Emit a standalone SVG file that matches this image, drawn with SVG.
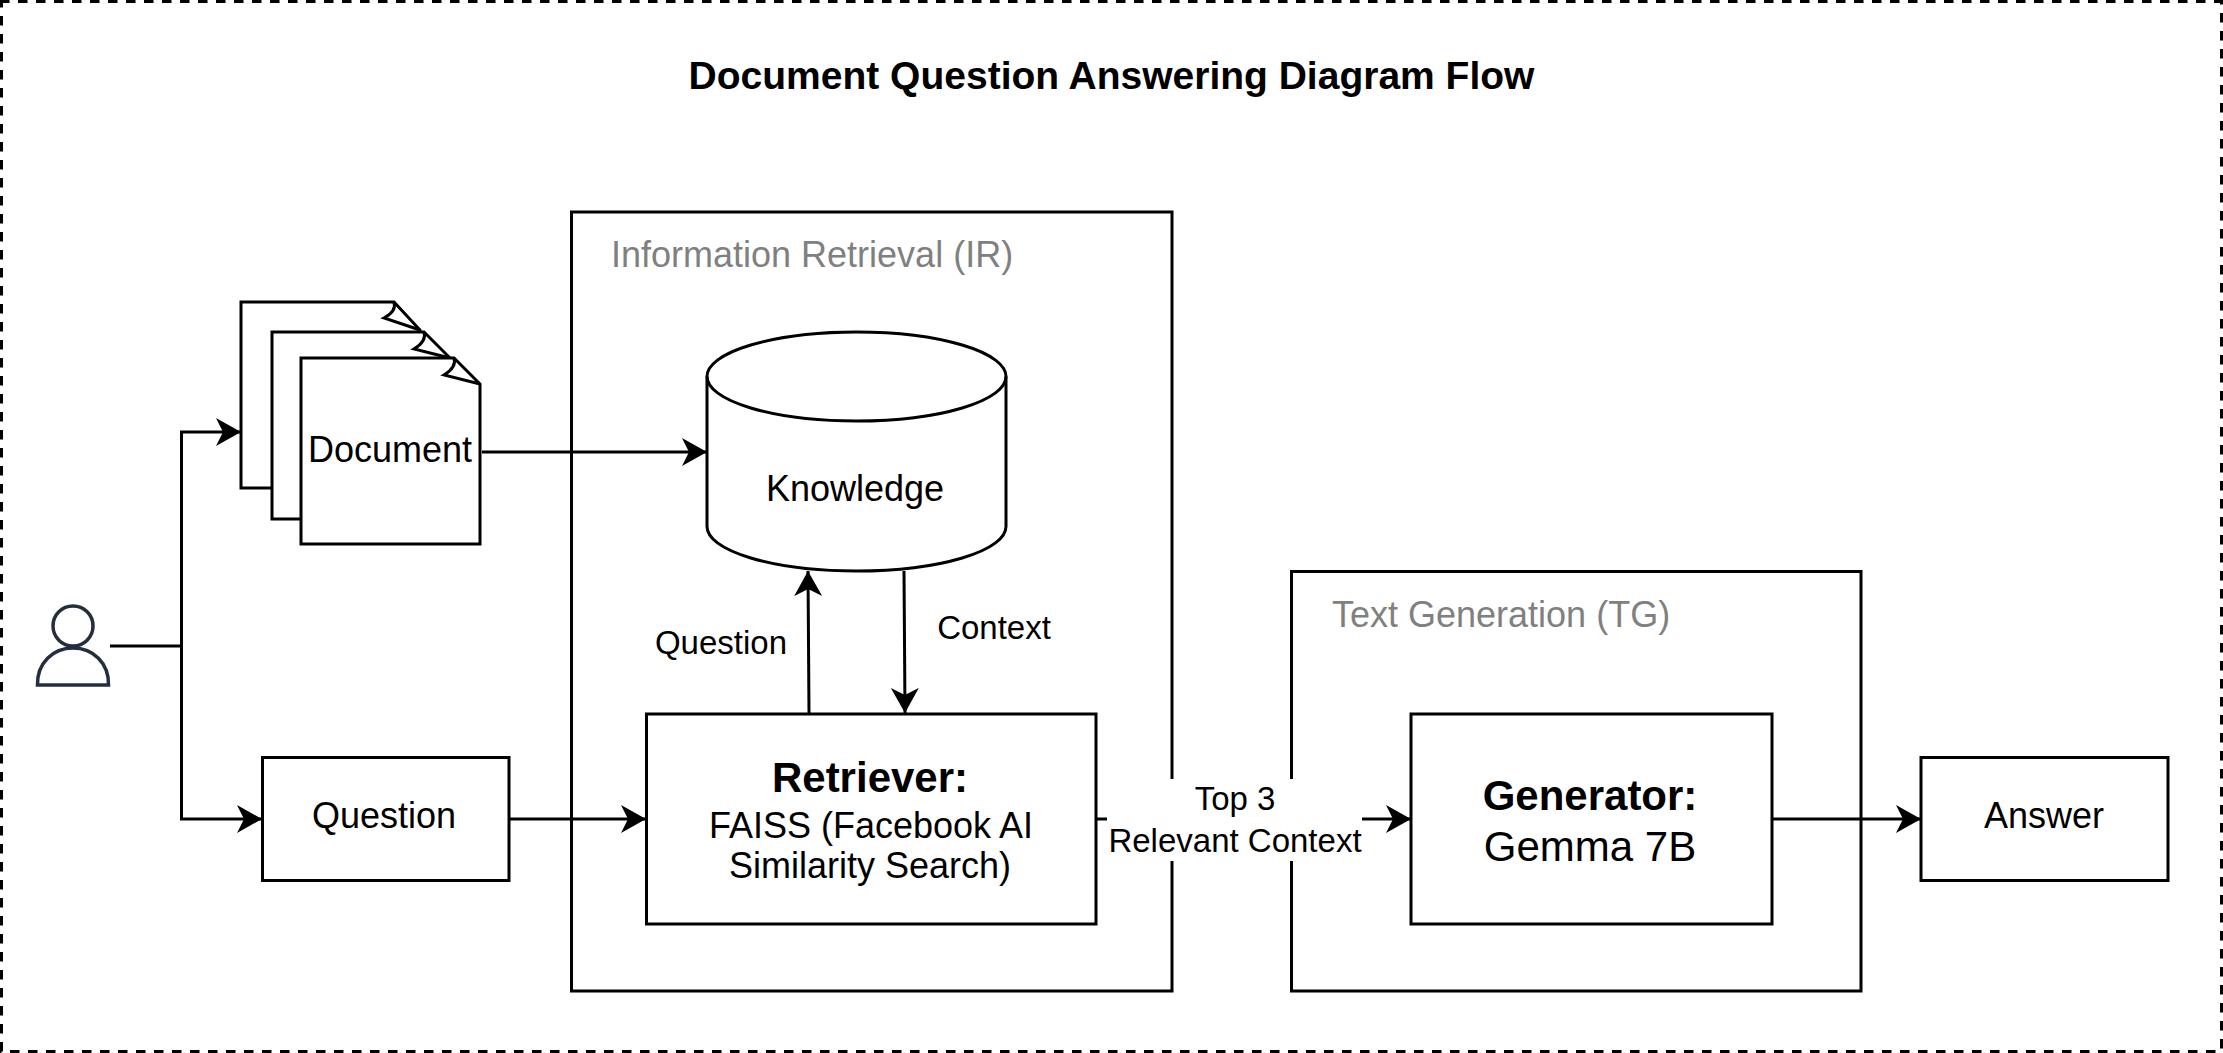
<svg xmlns="http://www.w3.org/2000/svg" width="2223" height="1053" viewBox="0 0 2223 1053">
<style>
.s{fill:#fff;stroke:#000;stroke-width:3}
.o{fill:none;stroke:#000;stroke-width:3}
.c{fill:none;stroke:#000;stroke-width:3}
.d{fill:none;stroke:#000;stroke-width:3;stroke-dasharray:9.500 8.500}
text{font-family:"Liberation Sans",Arial,sans-serif;font-size:36px;fill:#000;text-anchor:middle}
.g{fill:#808080;text-anchor:start}
.b{font-weight:700}
.l{font-size:42px}
.e{font-size:33px}
.u{fill:none;stroke:#232f3e;stroke-width:3.500}
</style>
<defs>
<marker id="a" markerUnits="userSpaceOnUse" markerWidth="30" markerHeight="30" refX="25" refY="14" orient="auto"><path d="M0 0L25 14L0 28L7 14Z" fill="#000"/></marker>
</defs>
<rect width="2223" height="1053" fill="#fff"/>
<g id="frame"><path class="d" d="M0 1.500H2223"/><path class="d" d="M1.500 -2V1053"/><path class="d" d="M2221.500 -5V1053"/><path class="d" d="M-8 1051.500H2223"/></g>
<text id="title" class="b" x="1111.500" y="89" style="font-size:39px">Document Question Answering Diagram Flow</text>
<g id="ir"><rect class="s" x="571.500" y="212" width="600.500" height="779"/><text class="g" x="611" y="267">Information Retrieval (IR)</text></g>
<g id="tg"><rect class="s" x="1291.500" y="571.500" width="569.500" height="419.500"/><text class="g" x="1332" y="627">Text Generation (TG)</text></g>
<g id="doc1"><path class="s" d="M241 302H394L420 330V488H241Z"/><path class="o" d="M394 302Q397 311 384 318L420 330"/></g>
<g id="doc2"><path class="s" d="M272 332H424L450 358V519H272Z"/><path class="o" d="M424 332Q427 341 414 349L450 358"/></g>
<g id="doc3"><path class="s" d="M301 358H454L480 384V544H301Z"/><path class="o" d="M454 358Q457 367 444 375L480 384"/><text x="390" y="462">Document</text></g>
<g id="user"><circle class="u" cx="73" cy="626" r="20"/><path class="u" d="M37.500 685C37 663 53 648 73 648S109 663 108.500 685Z"/></g>
<g id="knowledge"><path class="s" d="M707 376.500A149.500 44.500 0 0 1 1006 376.500V526.500A149.500 44.500 0 0 1 707 526.500Z"/><path class="o" d="M707 376.500A149.500 44.500 0 0 0 1006 376.500"/><text x="855" y="501">Knowledge</text></g>
<g id="question"><rect class="s" x="262.500" y="757.500" width="246.500" height="123"/><text x="384" y="828">Question</text></g>
<g id="retriever"><rect class="s" x="646.500" y="714" width="449.500" height="210"/><text class="b l" x="870" y="792">Retriever:</text><text x="871" y="838">FAISS (Facebook AI</text><text x="870" y="878">Similarity Search)</text></g>
<g id="generator"><rect class="s" x="1411" y="714" width="361" height="210"/><text class="b l" x="1590" y="810">Generator:</text><text class="l" x="1590" y="861">Gemma 7B</text></g>
<g id="answer"><rect class="s" x="1921" y="757.500" width="247" height="123"/><text x="2044" y="828">Answer</text></g>
<g id="connectors">
<path class="c" d="M110 646H181.500V432H241" marker-end="url(#a)"/>
<path class="c" d="M181.500 646V819H262" marker-end="url(#a)"/>
<path class="c" d="M482 452H707" marker-end="url(#a)"/>
<path class="c" d="M509 819H646" marker-end="url(#a)"/>
<path class="c" d="M809 713L808 571" marker-end="url(#a)"/>
<path class="c" d="M904 571L905 713" marker-end="url(#a)"/>
<path class="c" d="M1096 819H1411" marker-end="url(#a)"/>
<path class="c" d="M1772 819H1921" marker-end="url(#a)"/>
</g>
<g id="edge-label"><rect x="1107" y="779" width="255" height="82" fill="#fff"/><text class="e" x="1235" y="810">Top 3</text><text class="e" x="1235" y="852">Relevant Context</text></g>
<text id="label-question" class="e" x="721" y="654">Question</text>
<text id="label-context" class="e" x="994" y="639">Context</text>
</svg>
